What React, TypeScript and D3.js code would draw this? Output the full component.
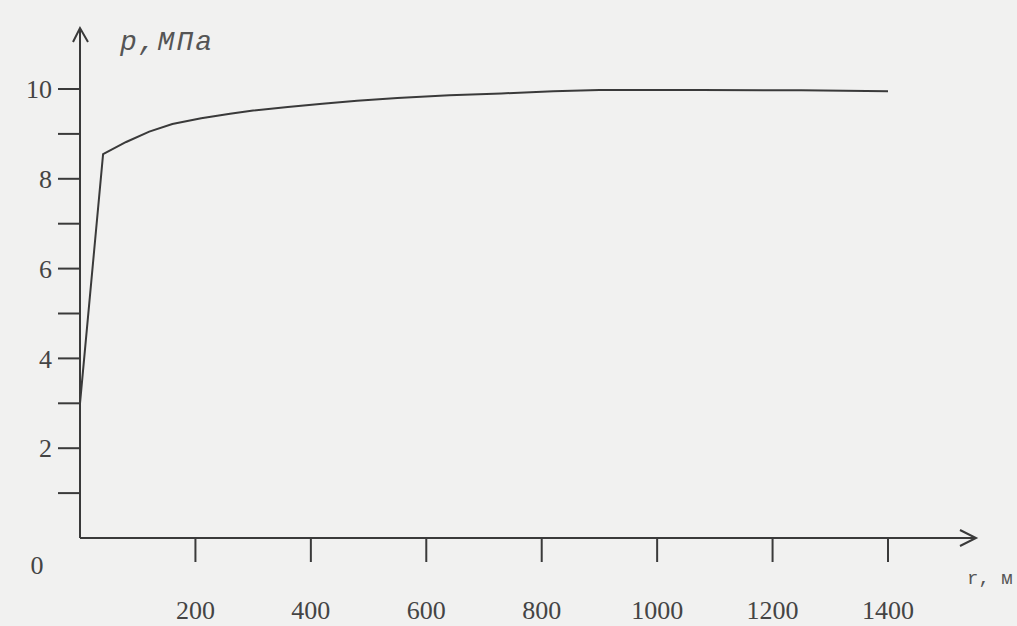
import React from 'react';
import * as d3 from 'd3';

// data
const radius = [0, 40, 80, 120, 160, 210, 260, 300, 360, 420, 480, 550, 640, 730, 820, 900, 1075, 1250, 1400];
const pressure = [3.0, 8.55, 8.82, 9.05, 9.22, 9.35, 9.45, 9.52, 9.6, 9.67, 9.74, 9.8, 9.86, 9.9, 9.95, 9.98, 9.98, 9.97, 9.95];
const xTicks = [200, 400, 600, 800, 1000, 1200, 1400];
const yMajorTicks = [2, 4, 6, 8, 10];
const yMinorTicks = [1, 3, 5, 7, 9];

const W = 1017;
const H = 626;
const ink = '#3a3a3a';
const serif = '"Liberation Serif", "DejaVu Serif", serif';
const mono = '"Liberation Mono", "DejaVu Sans Mono", monospace';

const App = () => {
  const x = d3.scaleLinear().domain([0, 1400]).range([80, 888]);
  const y = d3.scaleLinear().domain([0, 10]).range([538, 89]);

  const line = d3.line<number>()
    .x((_, i) => x(radius[i]))
    .y(d => y(d))
    .curve(d3.curveLinear);

  const x0 = x(0);
  const y0 = y(0);

  return (
    <svg
      width={W}
      height={H}
      style={{ position: 'absolute', left: 0, top: 0, background: '#f1f1f0' }}
    >
      {/* y axis with arrow */}
      <line x1={x0} y1={y0} x2={x0} y2={28} stroke={ink} strokeWidth={2} />
      <polyline points={`${x0 - 7},42 ${x0},28 ${x0 + 8},42`} fill="none" stroke={ink} strokeWidth={2} />

      {/* x axis with arrow */}
      <line x1={x0} y1={y0} x2={976} y2={y0} stroke={ink} strokeWidth={2} />
      <polyline points={`960,${y0 - 8} 976,${y0} 960,${y0 + 8}`} fill="none" stroke={ink} strokeWidth={2} />

      {/* y ticks */}
      {[...yMajorTicks, ...yMinorTicks].map(t => (
        <line key={'yt' + t} x1={x0 - 22} x2={x0} y1={y(t)} y2={y(t)} stroke={ink} strokeWidth={2} />
      ))}
      {yMajorTicks.map(t => (
        <text key={'yl' + t} x={52} y={y(t)} dy="0.35em" textAnchor="end"
          fontFamily={serif} fontSize={26} fill="#444">{t}</text>
      ))}
      <text x={37} y={565} dy="0.35em" textAnchor="middle" fontFamily={serif} fontSize={26} fill="#444">0</text>

      {/* x ticks */}
      {xTicks.map(t => (
        <g key={'xt' + t}>
          <line x1={x(t)} x2={x(t)} y1={y0} y2={y0 + 24} stroke={ink} strokeWidth={2} />
          <text x={x(t)} y={610} dy="0.35em" textAnchor="middle"
            fontFamily={serif} fontSize={26} fill="#444">{t}</text>
        </g>
      ))}

      {/* axis titles */}
      <text x={120} y={50} fontFamily={mono} fontStyle="italic" fontSize={28}
        letterSpacing={2} fill="#555">p,МПа</text>
      <text x={967} y={584} fontFamily={mono} fontSize={19} fill="#555">r, м</text>

      {/* curve */}
      <path d={line(pressure) ?? ''} fill="none" stroke={ink} strokeWidth={2} />
    </svg>
  );
};

export default App;
